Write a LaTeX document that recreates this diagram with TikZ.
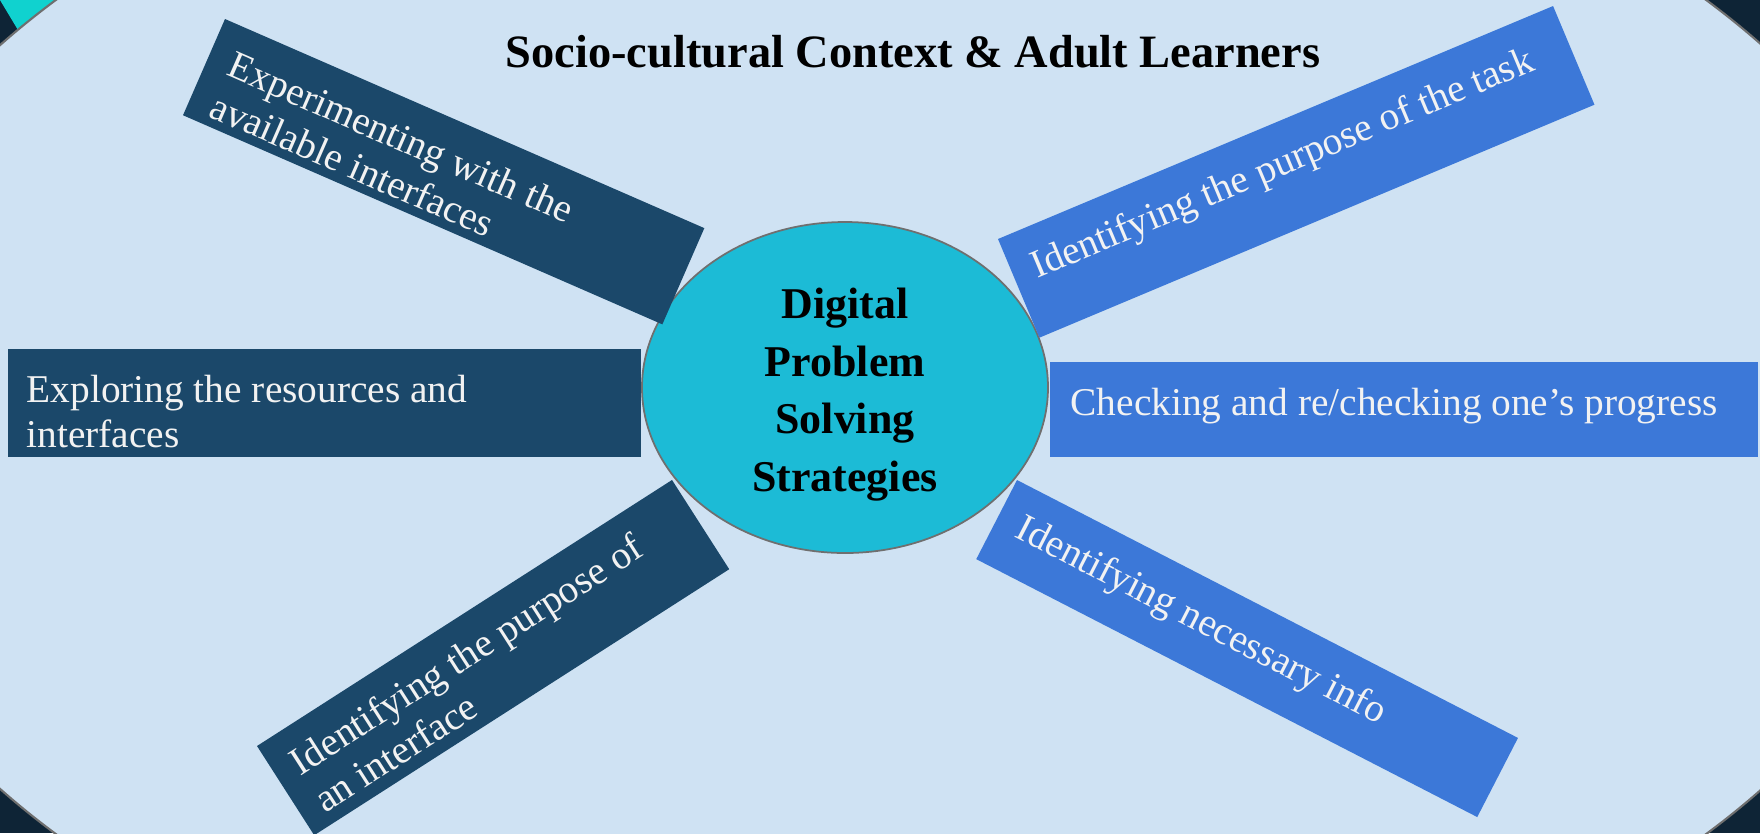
\documentclass[tikz,border=0pt]{standalone}
\usepackage{fontspec}
\setmainfont{Liberation Serif}
\usetikzlibrary{shapes.geometric}
\definecolor{outerdark}{HTML}{0E2436}
\definecolor{cornercyan}{HTML}{10D2CF}
\definecolor{lightbg}{HTML}{CFE2F3}
\definecolor{rimgray}{HTML}{6F6F6F}
\definecolor{corecyan}{HTML}{1CBBD6}
\definecolor{boxdark}{HTML}{1B486A}
\definecolor{boxblue}{HTML}{3C78D8}
\definecolor{labeltext}{HTML}{F2F2F2}
\begin{document}
\begin{tikzpicture}[
  darkbox/.style={fill=boxdark},
  bluebox/.style={fill=boxblue},
  % base anchor of a multi-line label sits on its last line
  boxlabel/.style={text=labeltext, font=\fontsize{11.2}{12.8}\selectfont,
    anchor=base west, inner sep=0pt, align=left},
  titlelabel/.style={font=\bfseries\fontsize{13.2}{15}\selectfont, anchor=base, inner sep=0pt},
  coreshape/.style={ellipse, draw=rimgray, fill=corecyan, line width=0.5pt,
    minimum width=4.06cm, minimum height=3.31cm, inner sep=0pt},
  corelabel/.style={inner sep=0pt, align=center,
    font=\bfseries\fontsize{12.5}{16.4}\selectfont}
]
\useasboundingbox (0,0) rectangle (17.6,-8.33);
% backdrop and the large field
\fill[outerdark] (0,0) rectangle (17.6,-8.33);
\fill[cornercyan] (0,0) -- (0.9,0) -- (0.30,-0.50) -- cycle;
\draw[rimgray, fill=lightbg, line width=0.6pt] (8.81,-4.17) ellipse [x radius=10.70, y radius=6.55];

% title
\node[titlelabel] (title) at (9.13,-0.67) {Socio-cultural Context \& Adult Learners};

% central ellipse
\node[coreshape] (core) at (8.45,-3.875) {};
\node[corelabel] (coretext) at ([yshift=-0.07cm]core.center) {Digital\\Problem\\Solving\\Strategies};

% left-hand strategies
\begin{scope}[shift={(2.25,-0.19)}, rotate=-23.57, transform shape]
  \fill[darkbox] (0,0) rectangle (5.23,-1.05);
  \node[boxlabel] (experimenting) at (0.22,-0.96) {Experimenting with the\\available interfaces};
\end{scope}

\fill[darkbox] (0.08,-3.49) rectangle (6.41,-4.57);
\node[boxlabel] (exploring) at (0.26,-4.47) {Exploring the resources and\\interfaces};

\begin{scope}[shift={(2.57,-7.46)}, rotate=32.66, transform shape]
  \fill[darkbox] (0,0) rectangle (4.93,-1.06);
  \node[boxlabel] (interfacepurpose) at (0.20,-0.94) {Identifying the purpose of\\an interface};
\end{scope}

% right-hand strategies
\begin{scope}[shift={(9.98,-2.39)}, rotate=22.77, transform shape]
  \fill[bluebox] (0,0) rectangle (6.02,-1.07);
  \node[boxlabel] (taskpurpose) at (0.20,-0.52) {Identifying the purpose of the task};
\end{scope}

\fill[bluebox] (10.50,-3.62) rectangle (17.58,-4.57);
\node[boxlabel] (checking) at (10.70,-4.15) {Checking and re/checking one’s progress};

\begin{scope}[shift={(10.17,-4.80)}, rotate=-27.24, transform shape]
  \fill[bluebox] (0,0) rectangle (5.635,-0.89);
  \node[boxlabel] (necessaryinfo) at (0.22,-0.52) {Identifying necessary info};
\end{scope}
\end{tikzpicture}
\end{document}
